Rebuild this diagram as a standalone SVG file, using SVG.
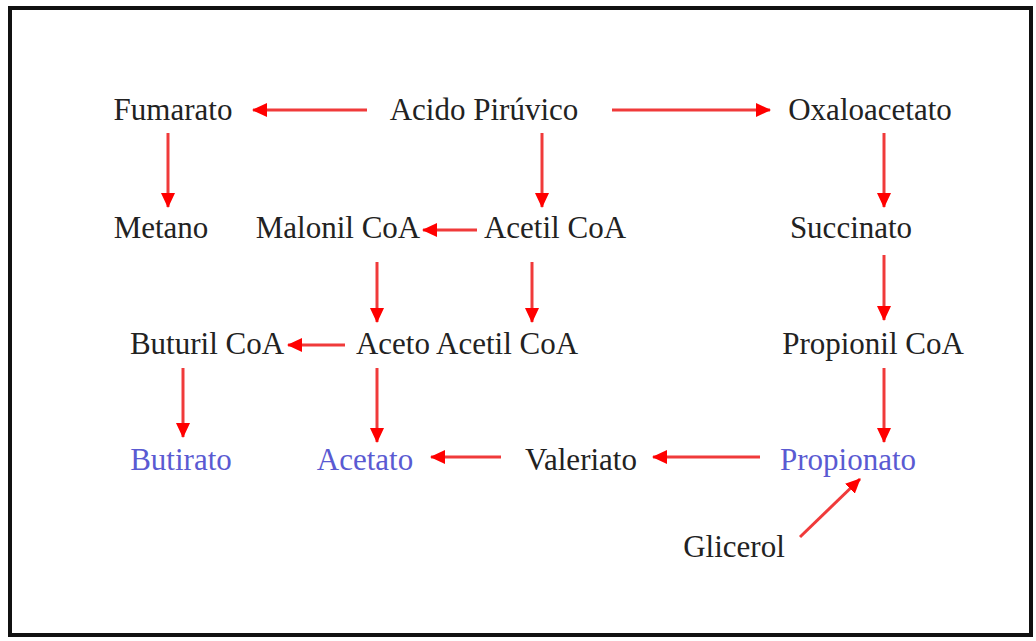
<svg xmlns="http://www.w3.org/2000/svg" width="1036" height="641" viewBox="0 0 1036 641">
<style>
text{font-family:"Liberation Serif","Times New Roman",serif;font-size:31px;text-anchor:middle;fill:#222}
.b{fill:#5a5ad2}
.c line{stroke:#f03a3a;stroke-width:3;marker-end:url(#ah)}
</style>
<defs>
<marker id="ah" markerUnits="userSpaceOnUse" markerWidth="16" markerHeight="14" refX="14" refY="7" orient="auto">
<path d="M0,0 L15,7 L0,14 Z" fill="#ff0000"/>
</marker>
</defs>
<rect x="0" y="0" width="1036" height="641" fill="#fff"/>
<rect x="10" y="8" width="1021" height="627" fill="none" stroke="#111" stroke-width="4"/>
<g id="n-fumarato"><text x="173" y="120">Fumarato</text></g>
<g id="n-acido"><text x="484" y="120">Acido Pirúvico</text></g>
<g id="n-oxalo"><text x="870" y="120">Oxaloacetato</text></g>
<g id="n-metano"><text x="161" y="238">Metano</text></g>
<g id="n-malonil"><text x="338" y="238">Malonil CoA</text></g>
<g id="n-acetil"><text x="555" y="238">Acetil CoA</text></g>
<g id="n-succinato"><text x="851" y="238">Succinato</text></g>
<g id="n-buturil"><text x="207" y="354">Buturil CoA</text></g>
<g id="n-aceto"><text x="467" y="354">Aceto Acetil CoA</text></g>
<g id="n-propionil"><text x="873" y="354">Propionil CoA</text></g>
<g id="n-butirato"><text class="b" x="181" y="470">Butirato</text></g>
<g id="n-acetato"><text class="b" x="365" y="470">Acetato</text></g>
<g id="n-valeriato"><text x="581" y="470">Valeriato</text></g>
<g id="n-propionato"><text class="b" x="848" y="470">Propionato</text></g>
<g id="n-glicerol"><text x="734" y="557">Glicerol</text></g>
<g id="connectors" class="c">
<line x1="367" y1="110" x2="253" y2="110"/>
<line x1="612" y1="110" x2="770" y2="110"/>
<line x1="168" y1="133" x2="168" y2="207"/>
<line x1="542" y1="133" x2="542" y2="207"/>
<line x1="884" y1="133" x2="884" y2="207"/>
<line x1="477" y1="230" x2="423" y2="230"/>
<line x1="377" y1="262" x2="377" y2="322"/>
<line x1="532" y1="262" x2="532" y2="322"/>
<line x1="884" y1="255" x2="884" y2="320"/>
<line x1="345" y1="345" x2="288" y2="345"/>
<line x1="183" y1="368" x2="183" y2="437"/>
<line x1="377" y1="368" x2="377" y2="442"/>
<line x1="884" y1="368" x2="884" y2="442"/>
<line x1="501" y1="457" x2="431" y2="457"/>
<line x1="760" y1="457" x2="653" y2="457"/>
<line x1="800" y1="537" x2="860" y2="479"/>
</g>
</svg>
